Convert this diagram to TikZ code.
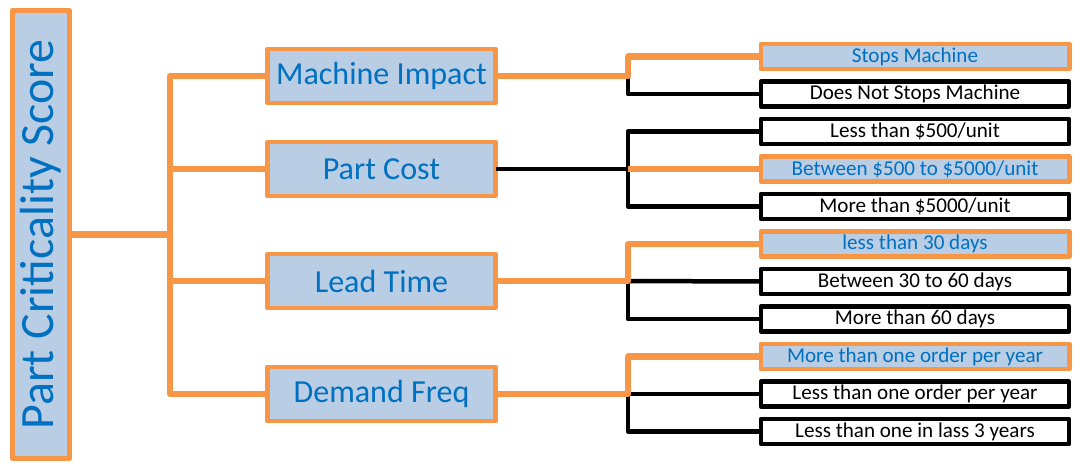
\documentclass[tikz,border=0pt]{standalone}
\usepackage{fontspec}
\setmainfont{Carlito}
\definecolor{corange}{HTML}{F79646}
\definecolor{cfill}{HTML}{B9CDE5}
\definecolor{cblue}{HTML}{0070C0}

\begin{document}
\begin{tikzpicture}[x=0.025cm,y=-0.025cm,line join=round,
  hibox/.style={draw=corange,fill=cfill,text=cblue,line width=3.5pt,inner sep=0,outer sep=0},
  lobox/.style={draw=black,fill=white,text=black,line width=3.2pt,inner sep=0,outer sep=0},
  lvone/.style={hibox,minimum width=5.7cm,minimum height=1.35cm,font=\fontsize{22.8}{26}\selectfont},
  leaf/.style={minimum width=7.7cm,minimum height=0.625cm,font=\fontsize{15}{17}\selectfont},
  oline/.style={draw=corange,line width=4.3pt},
  bline/.style={draw=black,line width=3.2pt}]

\useasboundingbox (0,0) rectangle (1073,462);

% root
\node [hibox,rotate=90,minimum width=11.2cm,minimum height=1.425cm,font=\fontsize{34}{38}\selectfont] (pcs) at (41,234.5) {Part Criticality Score};

% first level
\node [lvone] (mi) at (381.5,76) {Machine Impact};
\node [lvone] (pc) at (381.5,169) {Part Cost};
\node [lvone] (lt) at (381.5,281) {Lead Time};
\node [lvone] (df) at (381.5,394) {Demand Freq};

% second level
\node [leaf,hibox] (mi1) at (915,56.5) {Stops Machine};
\node [leaf,lobox] (mi2) at (915,94) {Does Not Stops Machine};
\node [leaf,lobox] (pc1) at (915,131.5) {Less than \$500/unit};
\node [leaf,hibox] (pc2) at (915,169) {Between \$500 to \$5000/unit};
\node [leaf,lobox] (pc3) at (915,206.5) {More than \$5000/unit};
\node [leaf,hibox] (lt1) at (915,244) {less than 30 days};
\node [leaf,lobox] (lt2) at (915,281.5) {Between 30 to 60 days};
\node [leaf,lobox] (lt3) at (915,319) {More than 60 days};
\node [leaf,hibox] (df1) at (915,356.5) {More than one order per year};
\node [leaf,lobox] (df2) at (915,394) {Less than one order per year};
\node [leaf,lobox] (df3) at (915,431.5) {Less than one in lass 3 years};

\coordinate (bus) at (170,234.5);
\coordinate (jx) at (628,0);

% root to first level
\draw [oline] (pcs.south) -- (bus);
\foreach \n in {mi,pc,lt,df}
  \draw [oline] (bus) |- (\n.west);

% first level to second level
\draw [bline] (mi.east -| jx) |- (mi2.west);
\draw [oline] (mi.east) -- (mi.east -| jx) |- (mi1.west);

\draw [bline] (pc1.west) -| (pc.east -| jx) |- (pc3.west);
\draw [bline] (pc.east) -- (pc.east -| jx);
\draw [oline] (pc.east -| jx) -- (pc2.west);

\draw [bline] (lt.east -| jx) |- (lt3.west);
\draw [bline] (lt.east -| jx) -- (lt2.west);
\draw [oline] (lt.east) -- (lt.east -| jx) |- (lt1.west);

\draw [bline] (df.east -| jx) |- (df3.west);
\draw [bline] (df.east -| jx) -- (df2.west);
\draw [oline] (df.east) -- (df.east -| jx) |- (df1.west);
\end{tikzpicture}
\end{document}
